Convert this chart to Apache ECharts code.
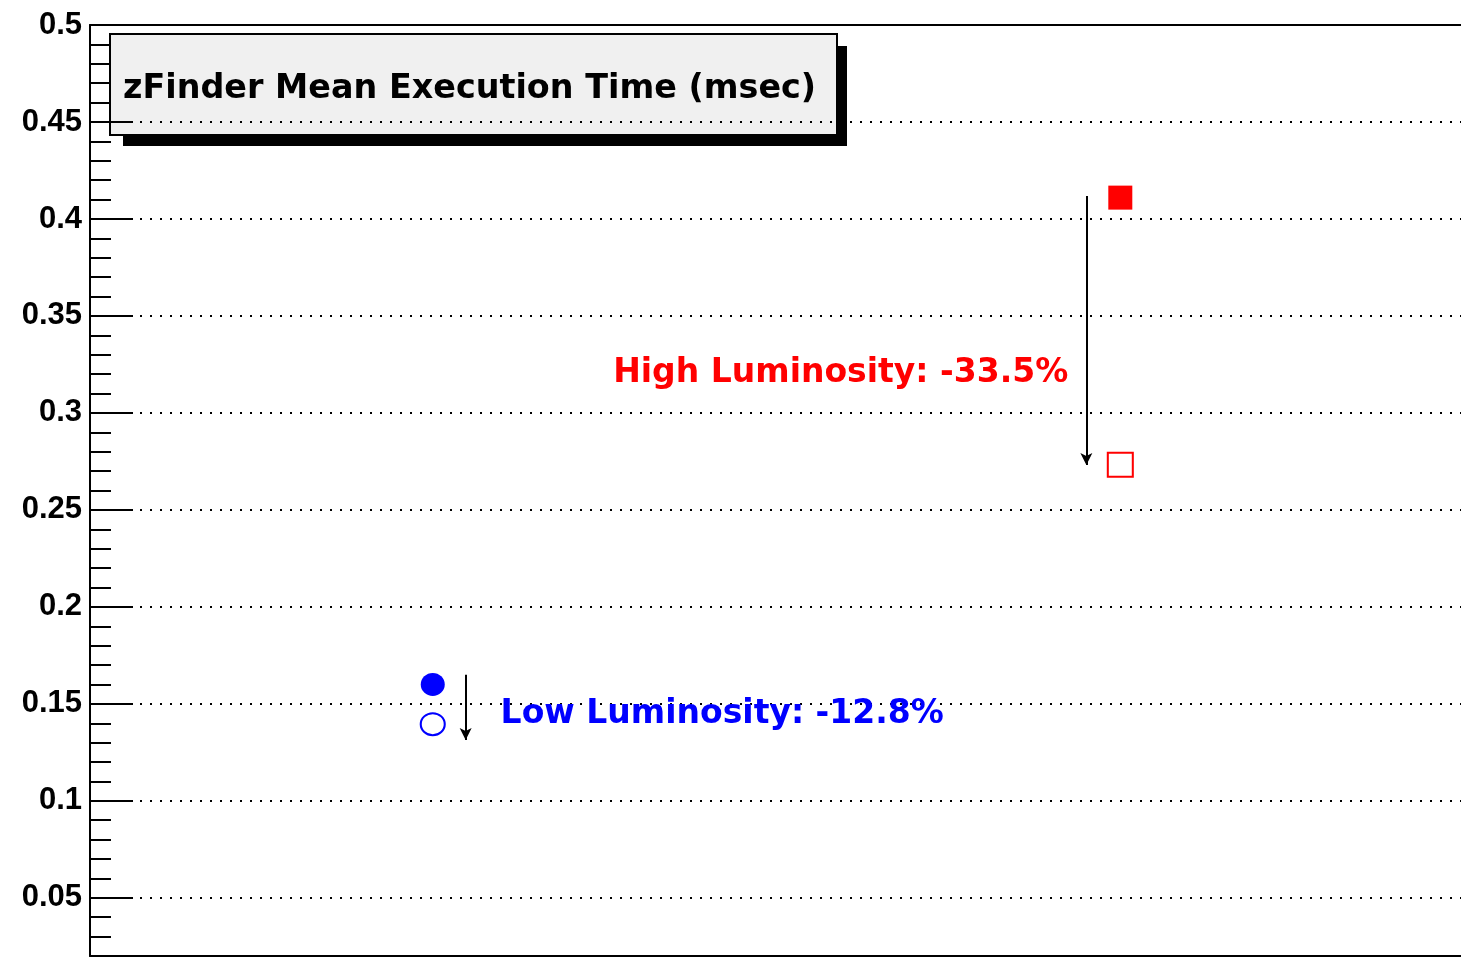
<!DOCTYPE html>
<html>
<head>
<meta charset="utf-8">
<title>zFinder Mean Execution Time</title>
<script src="https://cdn.jsdelivr.net/npm/echarts@6/dist/echarts.min.js"></script>
<style>
html, body { margin: 0; padding: 0; background: #fff; }
#chart { width: 1461px; height: 958px; }
</style>
</head>
<body>
<div id="chart"></div>
<script>
// mean execution time in msec, before (filled) and after (open)
const lowBefore = [[1, 0.160]];
const lowAfter = [[1, 0.1395]];
const highBefore = [[3.006, 0.411]];
const highAfter = [[3.006, 0.2733]];

// y axis ticks
const majorTicks = [0.05, 0.1, 0.15, 0.2, 0.25, 0.3, 0.35, 0.4, 0.45, 0.5];

// annotation arrows (data coords)
const lowArrow = [[1.096, 0.165], [1.096, 0.1314]];
const highArrow = [[2.907, 0.4118], [2.907, 0.2732]];

// annotation texts and anchors
const lowText = 'Low Luminosity: -12.8%';
const lowTextAt = [1.198, 0.1443];
const highText = 'High Luminosity: -33.5%';
const highTextAt = [2.854, 0.3206];

const titleText = 'zFinder Mean Execution Time (msec)';

var chartDom = document.getElementById('chart');
var myChart = echarts.init(chartDom);
var option;

var FONT = 'DejaVu Sans';

function arrowLine(pts) {
  return {
    silent: true,
    symbol: ['none', 'arrow'],
    symbolSize: [9, 12],
    label: { show: false },
    lineStyle: { color: '#000', width: 2, type: 'solid' },
    emphasis: { disabled: true },
    data: [[{ coord: pts[0] }, { coord: pts[1] }]]
  };
}

function textPoint(txt, at, color, pos) {
  return {
    silent: true,
    symbol: 'circle',
    symbolSize: 0,
    data: [{
      coord: at,
      label: {
        show: true,
        position: pos,
        distance: 0,
        formatter: txt,
        color: color,
        fontFamily: FONT,
        fontWeight: 'bold',
        fontSize: 33
      }
    }]
  };
}

var frameLine = { show: true, onZero: false, lineStyle: { color: '#000', width: 2 } };

option = {
  animation: false,
  backgroundColor: '#fff',
  grid: {
    left: 90,
    top: 25,
    width: 1372,
    height: 931,
    show: false,
    containLabel: false
  },
  xAxis: [
    {
      type: 'value',
      min: 0,
      max: 4,
      position: 'bottom',
      axisLine: frameLine,
      axisTick: { show: false },
      axisLabel: { show: false },
      splitLine: { show: false }
    },
    {
      type: 'value',
      min: 0,
      max: 4,
      position: 'top',
      axisLine: frameLine,
      axisTick: { show: false },
      axisLabel: { show: false },
      splitLine: { show: false }
    }
  ],
  yAxis: [
    {
      type: 'value',
      min: 0.02,
      max: 0.5,
      interval: 0.01,
      position: 'left',
      axisLine: frameLine,
      axisTick: { show: true, inside: true, length: 21, lineStyle: { color: '#000', width: 2 } },
      axisLabel: { show: false },
      splitLine: { show: false }
    },
    {
      type: 'value',
      min: 0.02,
      max: 0.5,
      position: 'left',
      axisLine: { show: false },
      axisTick: { show: true, inside: true, length: 43, customValues: majorTicks, lineStyle: { color: '#000', width: 2 } },
      axisLabel: {
        show: true,
        customValues: majorTicks,
        margin: 8,
        color: '#000',
        fontFamily: 'Liberation Sans',
        fontWeight: 'bold',
        fontSize: 31
      },
      splitLine: { show: true, lineStyle: { color: '#000', width: 2, type: [2, 8] } }
    }
  ],
  series: [
    {
      name: 'low before',
      type: 'scatter',
      data: lowBefore,
      symbol: 'circle',
      symbolSize: [24, 23],
      itemStyle: { color: '#0000ff', opacity: 1 },
      markLine: arrowLine(lowArrow),
      markPoint: textPoint(lowText, lowTextAt, '#0000ff', 'right')
    },
    {
      name: 'low after',
      type: 'scatter',
      data: lowAfter,
      symbol: 'circle',
      symbolSize: [24, 22],
      itemStyle: { color: '#fff', borderColor: '#0000ff', borderWidth: 2, opacity: 1 }
    },
    {
      name: 'high before',
      type: 'scatter',
      data: highBefore,
      symbol: 'rect',
      symbolSize: [24, 24],
      itemStyle: { color: '#ff0000', opacity: 1 },
      markLine: arrowLine(highArrow),
      markPoint: textPoint(highText, highTextAt, '#ff0000', 'left')
    },
    {
      name: 'high after',
      type: 'scatter',
      data: highAfter,
      symbol: 'rect',
      symbolSize: [25, 24],
      itemStyle: { color: '#fff', borderColor: '#ff0000', borderWidth: 2, opacity: 1 }
    }
  ],
  graphic: [
    {
      type: 'group',
      z: 100,
      children: [
        { type: 'rect', shape: { x: 123, y: 46, width: 724, height: 100 }, style: { fill: '#000' } },
        { type: 'rect', shape: { x: 110, y: 34, width: 727, height: 101 }, style: { fill: '#f0f0f0', stroke: '#000', lineWidth: 2 } },
        {
          type: 'text',
          x: 123,
          y: 89,
          style: {
            text: titleText,
            fill: '#000',
            font: 'bold 33.4px "DejaVu Sans"',
            verticalAlign: 'middle',
            align: 'left'
          }
        }
      ]
    }
  ]
};

myChart.setOption(option);
</script>
</body>
</html>
